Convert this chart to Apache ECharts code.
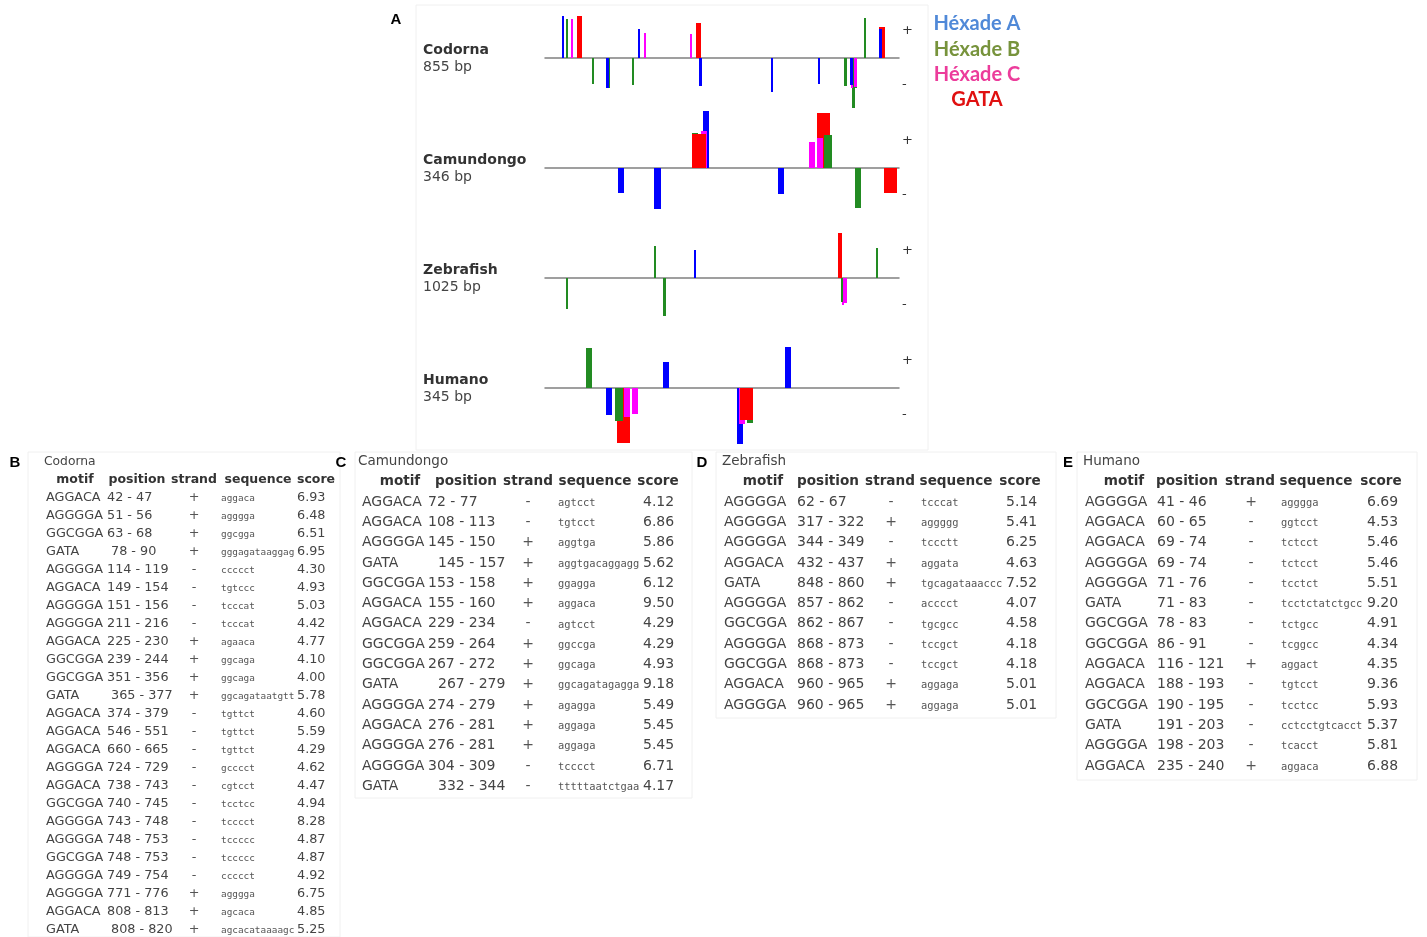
<!DOCTYPE html>
<html><head><meta charset="utf-8">
<script src="https://cdn.jsdelivr.net/npm/echarts/dist/echarts.min.js"></script>
<style>html,body{margin:0;padding:0;background:#fff}#c{width:1427px;height:937px}</style>
</head><body><div id="c"></div><script>
// ---------- DATA ----------
const species = ['Codorna', 'Camundongo', 'Zebrafish', 'Humano'];
const lengthsBp = [855, 346, 1025, 345];
const motifTypes = ['AGGACA', 'AGGGGA', 'GGCGGA', 'GATA'];
const legendLabels = ['Héxade A', 'Héxade B', 'Héxade C', 'GATA'];
const tableHeaders = ['motif', 'position', 'strand', 'sequence', 'score'];

const codornaMotif = ['AGGACA','AGGGGA','GGCGGA','GATA','AGGGGA','AGGACA','AGGGGA','AGGGGA','AGGACA','GGCGGA','GGCGGA','GATA','AGGACA','AGGACA','AGGACA','AGGGGA','AGGACA','GGCGGA','AGGGGA','AGGGGA','GGCGGA','AGGGGA','AGGGGA','AGGACA','GATA'];
const codornaStart = [42,51,63,78,114,149,151,211,225,239,351,365,374,546,660,724,738,740,743,748,748,749,771,808,808];
const codornaEnd   = [47,56,68,90,119,154,156,216,230,244,356,377,379,551,665,729,743,745,748,753,753,754,776,813,820];
const codornaStrand = ['+','+','+','+','-','-','-','-','+','+','+','+','-','-','-','-','-','-','-','-','-','-','+','+','+'];
const codornaSeq = ['aggaca','agggga','ggcgga','gggagataaggag','ccccct','tgtccc','tcccat','tcccat','agaaca','ggcaga','ggcaga','ggcagataatgtt','tgttct','tgttct','tgttct','gcccct','cgtcct','tcctcc','tcccct','tccccc','tccccc','ccccct','agggga','agcaca','agcacataaaagc'];
const codornaScore = [6.93,6.48,6.51,6.95,4.30,4.93,5.03,4.42,4.77,4.10,4.00,5.78,4.60,5.59,4.29,4.62,4.47,4.94,8.28,4.87,4.87,4.92,6.75,4.85,5.25];

const camundongoMotif = ['AGGACA','AGGACA','AGGGGA','GATA','GGCGGA','AGGACA','AGGACA','GGCGGA','GGCGGA','GATA','AGGGGA','AGGACA','AGGGGA','AGGGGA','GATA'];
const camundongoStart = [72,108,145,145,153,155,229,259,267,267,274,276,276,304,332];
const camundongoEnd   = [77,113,150,157,158,160,234,264,272,279,279,281,281,309,344];
const camundongoStrand = ['-','-','+','+','+','+','-','+','+','+','+','+','+','-','-'];
const camundongoSeq = ['agtcct','tgtcct','aggtga','aggtgacaggagg','ggagga','aggaca','agtcct','ggccga','ggcaga','ggcagatagagga','agagga','aggaga','aggaga','tcccct','tttttaatctgaa'];
const camundongoScore = [4.12,6.86,5.86,5.62,6.12,9.50,4.29,4.29,4.93,9.18,5.49,5.45,5.45,6.71,4.17];

const zebrafishMotif = ['AGGGGA','AGGGGA','AGGGGA','AGGACA','GATA','AGGGGA','GGCGGA','AGGGGA','GGCGGA','AGGACA','AGGGGA'];
const zebrafishStart = [62,317,344,432,848,857,862,868,868,960,960];
const zebrafishEnd   = [67,322,349,437,860,862,867,873,873,965,965];
const zebrafishStrand = ['-','+','-','+','+','-','-','-','-','+','+'];
const zebrafishSeq = ['tcccat','aggggg','tccctt','aggata','tgcagataaaccc','acccct','tgcgcc','tccgct','tccgct','aggaga','aggaga'];
const zebrafishScore = [5.14,5.41,6.25,4.63,7.52,4.07,4.58,4.18,4.18,5.01,5.01];

const humanoMotif = ['AGGGGA','AGGACA','AGGACA','AGGGGA','AGGGGA','GATA','GGCGGA','GGCGGA','AGGACA','AGGACA','GGCGGA','GATA','AGGGGA','AGGACA'];
const humanoStart = [41,60,69,69,71,71,78,86,116,188,190,191,198,235];
const humanoEnd   = [46,65,74,74,76,83,83,91,121,193,195,203,203,240];
const humanoStrand = ['+','-','-','-','-','-','-','-','+','-','-','-','-','+'];
const humanoSeq = ['agggga','ggtcct','tctcct','tctcct','tcctct','tcctctatctgcc','tctgcc','tcggcc','aggact','tgtcct','tcctcc','cctcctgtcacct','tcacct','aggaca'];
const humanoScore = [6.69,4.53,5.46,5.46,5.51,9.20,4.91,4.34,4.35,9.36,5.93,5.37,5.81,6.88];

// ---------- STYLE / LAYOUT ----------
const barColors = ['#0000ff', '#228b22', '#ff00ff', '#ff0000'];
const legendColors = ['#5089d8', '#77933c', '#ec3c9b', '#e01010'];
const trackBaselines = [58, 168, 278, 388];
const FONT = '"DejaVu Sans", Verdana, sans-serif';
const MONO = '"DejaVu Sans Mono", monospace';

const tablesData = [
  {motif: codornaMotif, start: codornaStart, end: codornaEnd, strand: codornaStrand, seq: codornaSeq, score: codornaScore},
  {motif: camundongoMotif, start: camundongoStart, end: camundongoEnd, strand: camundongoStrand, seq: camundongoSeq, score: camundongoScore},
  {motif: zebrafishMotif, start: zebrafishStart, end: zebrafishEnd, strand: zebrafishStrand, seq: zebrafishSeq, score: zebrafishScore},
  {motif: humanoMotif, start: humanoStart, end: humanoEnd, strand: humanoStrand, seq: humanoSeq, score: humanoScore}
];
const tableLayouts = [
  {letter:'B', lx:15, ly:463, tx:44, ty:462, hy:480, hx:[75,137,194,258,316], y0:498, dy:18, mx:46, px:107, gs:4, sx:194, qx:221, cx:297, fs:12.8, hs:12.5, qs:9.4, box:[28,452,312,485]},
  {letter:'C', lx:341, ly:463, tx:358, ty:461, hy:481, hx:[400,466,528,595,658], y0:502, dy:20.3, mx:362, px:428, gs:10, sx:528, qx:558, cx:643, fs:14, hs:13.6, qs:10.4, box:[355,452,337,346]},
  {letter:'D', lx:702, ly:463, tx:722, ty:461, hy:481, hx:[763,828,890,956,1020], y0:502, dy:20.3, mx:724, px:797, gs:0, sx:891, qx:921, cx:1006, fs:14, hs:13.6, qs:10.4, box:[716,452,340,266]},
  {letter:'E', lx:1068, ly:463, tx:1083, ty:461, hy:481, hx:[1124,1187,1250,1316,1381], y0:502, dy:20.3, mx:1085, px:1157, gs:0, sx:1251, qx:1281, cx:1367, fs:14, hs:13.6, qs:10.4, box:[1077,452,340,328]}
];

function txt(x, y, text, font, fill, align) {
  return {type:'text', x: x, y: y, silent: true, z: 10,
    style: {text: text, font: font, fill: fill, textAlign: align || 'left', textVerticalAlign: 'middle', align: align || 'left', verticalAlign: 'middle'}};
}

const graphics = [];
// panel A frame
graphics.push({type:'rect', shape:{x:416, y:5, width:512, height:445}, style:{fill:'none', stroke:'#f0f0f0', lineWidth:1}, silent:true, z:0});
graphics.push(txt(396, 20, 'A', 'bold 15px "Liberation Sans", Arial, sans-serif', '#000', 'center'));
// track labels
species.forEach((s, i) => {
  graphics.push(txt(423, trackBaselines[i] - 8, s, 'bold 14px ' + FONT, '#333', 'left'));
  graphics.push(txt(423, trackBaselines[i] + 9, lengthsBp[i] + ' bp', '14px ' + FONT, '#444', 'left'));
});
// legend
legendLabels.forEach((l, i) => {
  graphics.push(txt(977, 24 + i * 25.3, l, 'bold 20px Lato, "Open Sans", sans-serif', legendColors[i], 'center'));
});
// tables
tableLayouts.forEach((L, t) => {
  const D = tablesData[t];
  graphics.push({type:'rect', shape:{x:L.box[0], y:L.box[1], width:L.box[2], height:L.box[3]}, style:{fill:'none', stroke:'#f0f0f0', lineWidth:1}, silent:true, z:0});
  graphics.push(txt(L.lx, L.ly, L.letter, 'bold 15px "Liberation Sans", Arial, sans-serif', '#000', 'center'));
  graphics.push(txt(L.tx, L.ty, species[t], (L.fs - 0.5) + 'px ' + FONT, '#444', 'left'));
  tableHeaders.forEach((h, k) => graphics.push(txt(L.hx[k], L.hy, h, 'bold ' + L.hs + 'px ' + FONT, '#333', 'center')));
  D.motif.forEach((m, r) => {
    const y = L.y0 + r * L.dy;
    graphics.push(txt(L.mx, y, m, L.fs + 'px ' + FONT, '#444', 'left'));
    graphics.push(txt(L.px + (m === 'GATA' ? L.gs : 0), y, D.start[r] + ' - ' + D.end[r], L.fs + 'px ' + FONT, '#444', 'left'));
    graphics.push(txt(L.sx, y, D.strand[r], L.fs + 'px ' + FONT, '#555', 'center'));
    graphics.push(txt(L.qx, y + 1, D.seq[r], L.qs + 'px ' + MONO, '#555', 'left'));
    graphics.push(txt(L.cx, y, D.score[r].toFixed(2), L.fs + 'px ' + FONT, '#444', 'left'));
  });
});

// ---------- CHART ----------
const grids = [], xAxes = [], yAxes = [], series = [];
species.forEach((s, i) => {
  const D = tablesData[i];
  grids.push({left: 545, width: 354, top: trackBaselines[i] - 54, height: 108});
  xAxes.push({gridIndex: i, type: 'value', min: 0, max: lengthsBp[i],
    axisLine: {show: true, onZero: true, lineStyle: {color: '#808080', width: 1.5}},
    axisTick: {show: false}, axisLabel: {show: false}, splitLine: {show: false}});
  yAxes.push({gridIndex: i, type: 'value', min: -9, max: 9, interval: 4.5, position: 'right',
    axisLine: {show: false}, axisTick: {show: false}, splitLine: {show: false},
    axisLabel: {margin: 3, fontSize: 13, color: '#333', fontFamily: 'DejaVu Sans',
      formatter: v => (v > 1 && v < 8) ? '+' : ((v < -1 && v > -8) ? '-' : '')}});
  const items = D.motif.map((m, r) => ({start: D.start[r] - 1, end: D.end[r], val: (D.strand[r] === '+' ? 1 : -1) * D.score[r], c: motifTypes.indexOf(m), score: D.score[r], r: r}));
  items.sort((a, b) => (b.score - a.score) || (a.r - b.r));
  series.push({type: 'custom', xAxisIndex: i, yAxisIndex: i, clip: false, silent: true,
    encode: {x: [0, 1], y: 2},
    data: items.map(d => [d.start, d.end, d.val, d.c]),
    renderItem: (params, api) => {
      const p0 = api.coord([api.value(0), api.value(2)]);
      const p1 = api.coord([api.value(1), 0]);
      const x0 = Math.round(p0[0]);
      const x1 = Math.max(x0 + 2, Math.round(p1[0]));
      const y0 = Math.round(Math.min(p0[1], p1[1]));
      const y1 = Math.round(Math.max(p0[1], p1[1]));
      return {type: 'rect', shape: {x: x0, y: y0, width: x1 - x0, height: y1 - y0},
        style: {fill: barColors[api.value(3)]}};
    }});
});

const chart = echarts.init(document.getElementById('c'), null, {renderer: 'canvas'});
chart.setOption({
  backgroundColor: '#fff', animation: false,
  grid: grids, xAxis: xAxes, yAxis: yAxes, series: series,
  graphic: {elements: graphics}
});
</script></body></html>
